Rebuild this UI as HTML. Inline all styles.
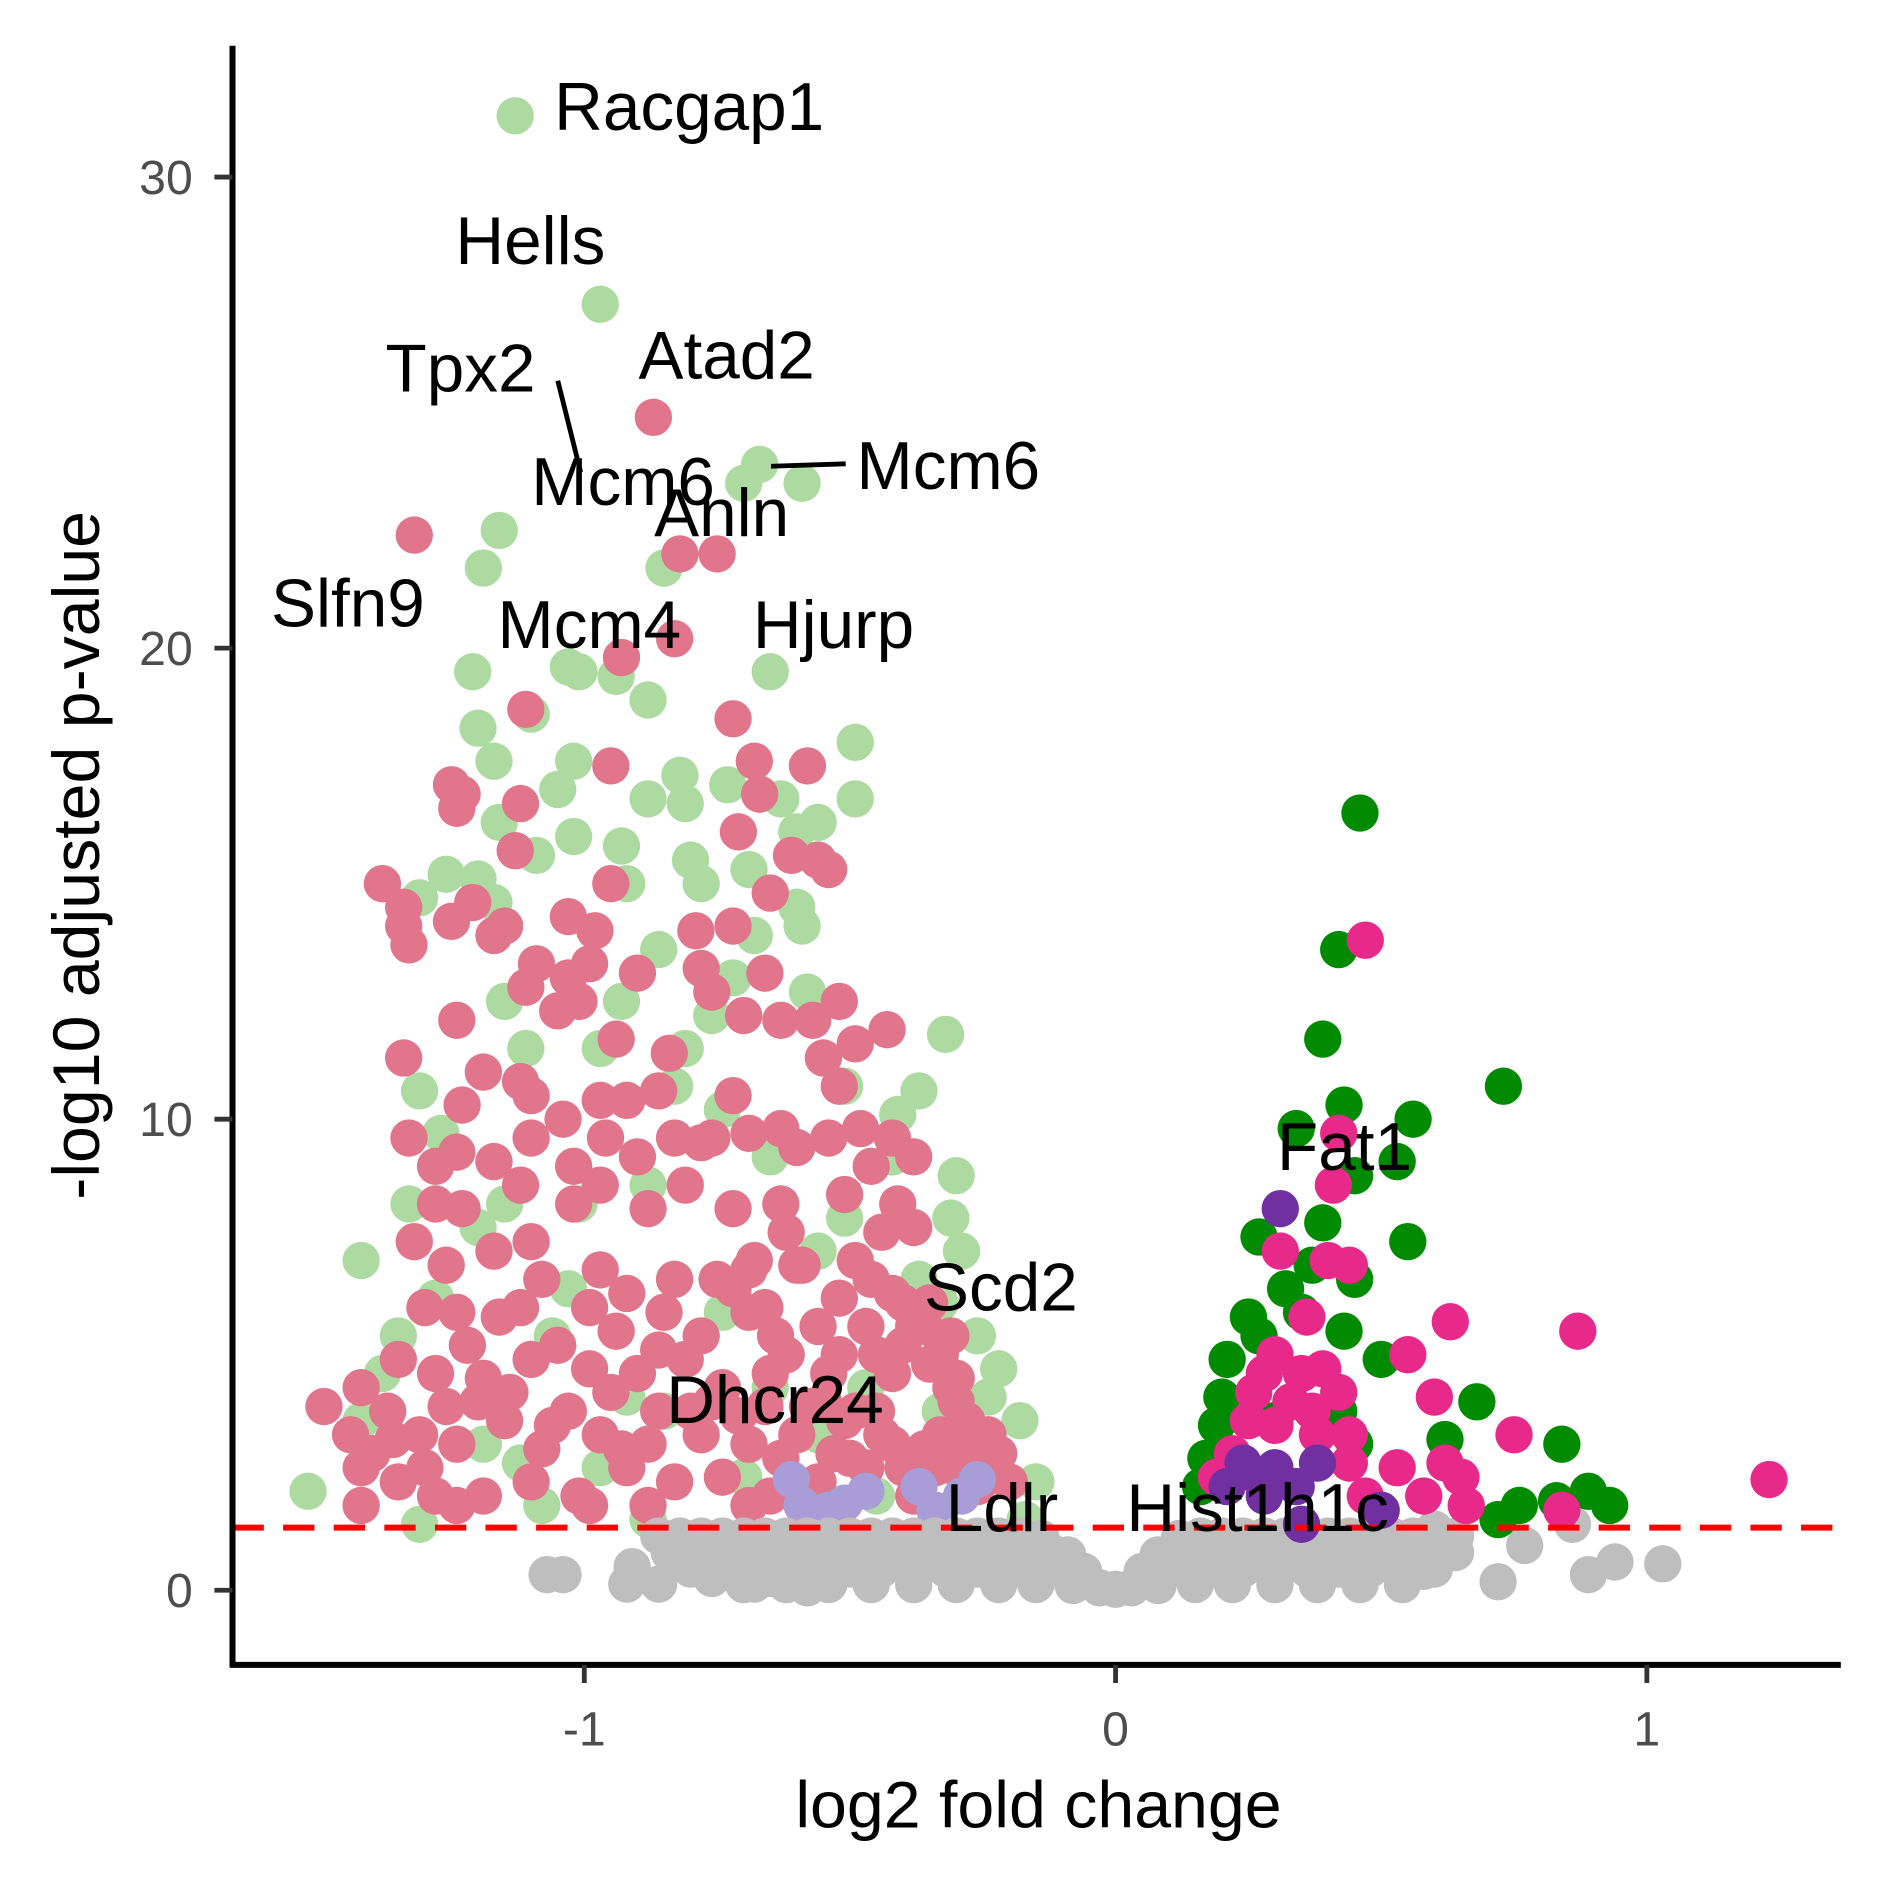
<!DOCTYPE html>
<html><head><meta charset="utf-8"><style>
html,body{margin:0;padding:0;background:#fff}
svg{display:block}
text{font-family:"Liberation Sans",Arial,sans-serif}
</style></head><body>
<svg id="chart" width="1889" height="1889" viewBox="0 0 1568 1568" xmlns="http://www.w3.org/2000/svg">
<g id="points"></g>
<line x1="193" x2="1528" y1="1268" y2="1268" stroke="#ff0000" stroke-width="5" stroke-dasharray="26,16"/>
<g font-size="56" fill="#000">
<text x="460" y="108">Racgap1</text>
<text x="378" y="219">Hells</text>
<text x="530" y="314">Atad2</text>
<text x="320" y="325">Tpx2</text>
<text x="441" y="419">Mcm6</text>
<text x="543" y="445">Anln</text>
<text x="711" y="406">Mcm6</text>
<text x="225" y="520">Slfn9</text>
<text x="413" y="538">Mcm4</text>
<text x="625" y="538">Hjurp</text>
<text x="1060" y="971">Fat1</text>
<text x="767" y="1088">Scd2</text>
<text x="553" y="1181">Dhcr24</text>
<text x="785" y="1271">Ldlr</text>
<text x="935" y="1271">Hist1h1c</text>
</g>
<line x1="463" y1="316" x2="482" y2="392" stroke="#000" stroke-width="4"/>
<line x1="640" y1="387" x2="702" y2="385" stroke="#000" stroke-width="4"/>
<g id="axes"></g>
<text x="862" y="1517" font-size="55" text-anchor="middle">log2 fold change</text>
<text transform="translate(82,710) rotate(-90)" font-size="55" text-anchor="middle">-log10 adjusted p-value</text>
</svg>
<script>
const lgX=[-1.13,-0.97,-0.70,-0.67,-0.59,-1.16,-1.19,-0.85,-0.65,-1.21,-1.03,-1.01,-0.94,-0.88,-1.20,-1.10,-1.17,-0.82,-0.73,-0.63,-0.49,-0.49,-1.02,-1.05,-0.88,-0.81,-1.16,-1.09,-1.02,-0.93,-0.92,-0.80,-0.78,-0.69,-0.60,-0.56,-1.26,-1.20,-1.17,-1.31,-0.60,-0.59,-0.68,-0.86,-0.58,-0.93,-0.32,-0.37,-0.41,-0.30,-1.42,-1.52,-1.31,-1.12,-0.22,-0.26,-0.31,-0.29,-0.18,-0.15,-1.33,-1.31,-1.27,-1.15,-1.11,-0.97,-0.92,-0.83,-0.74,-0.65,-0.51,-0.42,-0.51,-0.37,-0.33,-0.24,-1.42,-1.35,-1.03,-0.74,-0.56,-1.15,-1.01,-0.83,-0.88,-1.06,-1.19,-0.92,-0.65,-0.47,-0.33,-0.24,-0.17,-1.08,-0.88,-0.76,-0.81,-0.72,-1.38,-1.10,-0.97,-0.85,-0.70,-0.56,-0.45,-1.28,-1.20];
const lgY=[31.3,27.3,23.5,23.9,23.5,22.5,21.7,21.7,19.5,19.5,19.6,19.5,19.4,18.9,18.3,18.6,17.6,17.3,17.1,16.8,18.0,16.8,17.6,17.0,16.8,16.7,16.3,15.6,16.0,15.8,15.0,15.5,15.0,15.3,16.1,16.3,15.2,15.1,14.6,14.7,14.5,14.1,13.9,13.6,12.7,12.5,11.8,10.6,10.1,8.8,7.0,2.1,1.4,2.7,4.7,5.4,7.9,7.2,3.6,2.3,8.2,10.6,9.7,12.5,11.5,11.5,10.4,10.7,10.2,9.2,10.7,9.2,7.9,6.6,6.1,4.1,3.6,5.4,6.4,5.9,7.2,8.2,8.2,6.6,8.6,5.4,3.1,4.1,4.3,4.3,3.8,3.1,1.5,1.8,1.5,12.2,11.5,13.0,4.6,4.9,2.6,3.8,2.4,3.3,2.0,6.2,7.7];
const drX=[-0.87,-0.82,-0.75,-0.93,-0.83,-1.32,-1.11,-0.72,-0.95,-0.68,-0.58,-0.67,-1.25,-1.23,-1.24,-1.12,-0.71,-1.13,-0.61,-0.56,-0.54,-1.38,-1.34,-1.34,-1.33,-1.21,-1.25,-1.17,-1.15,-1.03,-0.98,-0.95,-0.65,-0.72,-0.79,-0.90,-0.78,-0.99,-1.03,-1.09,-1.11,-0.76,-0.66,-0.52,-0.70,-0.63,-1.24,-1.05,-1.01,-0.57,-0.49,-0.43,-1.34,-1.19,-0.84,-0.94,-0.55,-1.12,-0.52,-0.72,-0.63,-0.86,-0.92,-0.97,-1.10,-1.23,-1.33,-1.28,-1.24,-1.17,-1.10,-1.04,-0.96,-0.83,-0.76,-0.69,-0.54,-0.48,-0.42,-0.38,-1.28,-1.23,-1.10,-1.02,-0.97,-0.88,-0.81,-0.72,-0.63,-0.51,-0.41,-0.38,-1.32,-1.26,-1.17,-1.08,-0.97,-0.92,-0.83,-0.72,-0.60,-0.49,-0.42,-0.35,-1.24,-1.12,-0.99,-0.85,-0.78,-0.69,-0.56,-0.47,-0.38,-0.31,-1.35,-1.28,-1.19,-1.10,-0.99,-0.90,-0.81,-0.74,-0.65,-0.54,-0.42,-0.31,-1.42,-1.49,-1.44,-1.37,-1.31,-1.24,-1.15,-1.06,-0.97,-0.88,-0.78,-0.69,-0.60,-0.51,-0.42,-0.33,-0.24,-1.42,-1.35,-1.28,-1.19,-1.10,-1.01,-0.92,-0.83,-0.74,-0.65,-0.56,-0.47,-0.38,-0.20,-1.42,-1.24,-0.99,-0.88,-0.69,-0.45,-0.40,-0.35,-0.30,-0.28,-0.45,-0.36,-0.30,-0.26,-0.50,-0.55,-0.62,-0.66,-0.68,-0.62,-0.46,-0.52,-1.40,-1.36,-1.30,-1.26,-1.20,-1.14,-1.08,-1.03,-0.95,-0.93,-0.86,-0.80,-0.76,-0.71,-0.66,-0.63,-0.58,-0.53,-0.49,-0.44,-0.40,-0.34,-0.28,-0.25,-0.22,-0.30,-0.36,-0.40,-0.33,-1.22,-1.16,-1.05,-0.94,-0.86,-0.75,-0.69,-0.59,-0.64,-0.52,-0.44,-1.30,-1.12,-1.02,-0.90,-0.78,-0.60,-0.46];
const drY=[24.9,22.0,22.0,19.8,20.2,22.4,18.7,18.5,17.5,17.6,17.5,16.9,17.1,16.9,16.6,16.7,16.1,15.7,15.6,15.5,15.3,15.0,14.5,14.1,13.7,14.6,14.2,13.9,14.1,14.3,14.0,15.0,14.8,14.1,14.0,13.1,13.2,13.3,13.0,13.3,12.8,12.7,13.1,12.5,12.2,12.1,12.1,12.3,12.5,12.1,11.6,11.9,11.3,11.0,11.4,11.7,11.3,10.8,10.7,10.5,9.8,10.6,10.4,10.4,10.5,10.3,9.6,9.0,9.3,9.1,9.6,10.0,9.6,9.6,9.6,9.7,9.6,9.8,9.6,9.2,8.2,8.1,7.4,8.2,8.6,8.1,8.6,8.1,8.2,8.4,8.2,7.7,7.4,6.9,7.2,6.6,6.8,6.3,6.6,6.4,6.9,7.0,6.3,6.1,5.9,6.0,6.0,5.9,5.4,5.9,5.6,5.6,5.6,5.4,4.9,4.6,4.5,4.9,4.7,4.6,4.9,4.3,4.6,4.6,4.6,4.3,4.3,3.9,3.3,3.8,3.3,3.1,3.6,3.5,3.3,3.1,3.3,3.1,3.3,3.6,3.1,3.3,3.3,2.6,2.3,2.0,2.0,2.3,2.0,2.6,2.3,2.4,2.0,2.3,2.6,2.0,2.3,1.8,1.8,1.8,1.8,1.8,5.0,5.2,4.8,4.0,3.6,3.8,3.0,2.6,2.2,2.8,4.0,5.0,6.0,7.0,7.6,6.6,6.2,2.9,3.2,2.6,3.9,4.0,4.2,3.0,3.8,4.2,3.0,3.8,3.8,4.0,3.7,3.9,2.8,3.9,2.9,3.8,3.3,2.6,2.6,3.0,2.6,2.9,4.5,5.6,6.1,5.0,5.2,5.8,5.2,5.5,5.1,6.6,6.8,6.9,5.4,5.0,7.6,6.0,8.6,9.0,9.2,9.5,9.4,9.0];
const lvX=[-0.61,-0.59,-0.51,-0.47,-0.37,-0.34,-0.29,-0.26,-0.54];
const lvY=[2.35,1.8,1.85,2.1,2.2,1.7,2.0,2.35,1.7];
const grX=[-1.07,-1.04,-0.92,-0.86,-0.91,-0.76,-0.68,-0.65,-0.58,0.72,0.77,0.89,0.94,1.03,0.86,0.64,0.60,0.58,
-0.86,-0.82,-0.78,-0.74,-0.70,-0.66,-0.62,-0.58,-0.54,-0.50,-0.46,-0.42,-0.38,-0.34,-0.30,-0.26,-0.22,-0.18,-0.14,0.12,0.16,0.20,0.24,0.28,0.32,0.36,0.40,0.44,0.48,0.52,0.56,0.60,0.64,
-0.84,-0.80,-0.76,-0.72,-0.68,-0.64,-0.60,-0.56,-0.52,-0.48,-0.44,-0.40,-0.36,-0.32,-0.28,-0.24,-0.20,-0.16,-0.12,-0.09,0.08,0.11,0.14,0.18,0.22,0.26,0.30,0.34,0.38,0.42,0.46,0.50,0.54,0.58,0.62,
-0.80,-0.74,-0.68,-0.62,-0.56,-0.50,-0.44,-0.38,-0.32,-0.26,-0.20,-0.15,-0.10,-0.06,0.05,0.09,0.13,0.18,0.24,0.30,0.36,0.42,0.48,0.54,0.60,
-0.70,-0.62,-0.54,-0.46,-0.38,-0.30,-0.22,-0.15,-0.08,-0.03,0.00,0.03,0.08,0.15,0.22,0.30,0.38,0.46,0.54];
const grY=[0.33,0.33,0.13,0.13,0.5,0.25,0.13,0.25,0.05,0.18,0.95,0.33,0.6,0.56,1.4,0.8,1.3,0.4,
1.15,1.15,1.15,1.15,1.15,1.15,1.15,1.15,1.15,1.15,1.15,1.15,1.15,1.15,1.15,1.15,1.15,1.15,1.1,1.1,1.15,1.15,1.15,1.15,1.15,1.15,1.15,1.15,1.15,1.15,1.15,1.15,1.15,
0.8,0.8,0.8,0.8,0.8,0.8,0.8,0.8,0.8,0.8,0.8,0.8,0.8,0.8,0.8,0.8,0.8,0.8,0.8,0.75,0.75,0.8,0.8,0.8,0.8,0.8,0.8,0.8,0.8,0.8,0.8,0.8,0.8,0.8,0.8,
0.45,0.45,0.45,0.45,0.45,0.45,0.45,0.45,0.45,0.45,0.45,0.45,0.45,0.4,0.4,0.45,0.45,0.45,0.45,0.45,0.45,0.45,0.45,0.45,0.45,
0.12,0.12,0.12,0.12,0.12,0.12,0.12,0.12,0.1,0.05,0.02,0.05,0.1,0.12,0.12,0.12,0.12,0.12,0.12];
const dgX=[0.46,0.42,0.39,0.73,0.43,0.56,0.34,0.53,0.45,0.55,0.39,0.27,0.37,0.45,0.32,0.43,0.27,0.21,0.50,0.68,0.62,0.84,0.19,0.17,0.16,0.89,0.93,0.83,0.76,0.72,0.20,0.42,0.45,0.25,0.35,0.30];
const dgY=[16.5,13.6,11.7,10.7,10.3,10.0,9.8,9.1,8.8,7.4,7.8,7.5,6.9,6.6,6.4,5.5,5.4,4.9,4.9,4.0,3.2,3.1,3.5,2.8,2.2,2.1,1.8,1.9,1.8,1.5,4.1,3.8,3.1,5.8,5.9,3.6];
const mgX=[0.47,0.42,0.41,0.31,0.40,0.44,0.63,0.87,0.55,0.60,0.75,1.23,0.36,0.30,0.35,0.39,0.26,0.33,0.42,0.25,0.30,0.38,0.44,0.22,0.44,0.53,0.62,0.65,0.58,0.66,0.84,0.47,0.19,0.37,0.28];
const mgY=[13.8,9.7,8.6,7.2,7.0,6.9,5.7,5.5,5.0,4.1,3.3,2.35,5.8,5.0,4.6,4.7,4.2,4.0,4.2,3.6,3.5,3.3,3.3,2.9,2.7,2.6,2.7,2.4,2.0,1.8,1.7,2.0,2.4,3.8,4.6];
const puX=[0.31,0.24,0.27,0.30,0.34,0.38,0.21,0.35,0.50,0.28];
const puY=[8.1,2.7,2.4,2.6,2.2,2.7,2.2,1.4,1.7,2.0];
const xTicks=[-1,0,1];
const yTicks=[0,10,20,30];

const NS="http://www.w3.org/2000/svg";
function sx(v){return 926+v*441;}
function sy(v){return 1320-v*39.1;}
const pts=document.getElementById('points');
function drawSeries(xs,ys,color,name){
  const g=document.createElementNS(NS,'g');
  
  
  for(let i=0;i<xs.length;i++){
    const c=document.createElementNS(NS,'circle');
    c.setAttribute('cx',sx(xs[i]));c.setAttribute('cy',sy(ys[i]));c.setAttribute('r',15.5);c.setAttribute('fill',color);
    
    
    g.appendChild(c);
  }
  pts.appendChild(g);
}
drawSeries(lgX,lgY,'#addaa1','down-other');
drawSeries(drX,drY,'#e0758c','down-highlight');
drawSeries(lvX,lvY,'#a89dd6','down-lipid');
drawSeries(grX,grY,'#bebebe','not-significant');
drawSeries(dgX,dgY,'#008b00','up-other');
drawSeries(mgX,mgY,'#e7298a','up-highlight');
drawSeries(puX,puY,'#7030a0','up-histone');

const ax=document.getElementById('axes');
function mk(tag,attrs){const e=document.createElementNS(NS,tag);for(const k in attrs)e.setAttribute(k,attrs[k]);ax.appendChild(e);return e;}
const yl=mk('line',{x1:193,x2:193,y1:38,y2:1384,stroke:'#000','stroke-width':5});


const xl=mk('line',{x1:191,x2:1528,y1:1382,y2:1382,stroke:'#000','stroke-width':5});


xTicks.forEach(t=>{
  const tk=mk('line',{x1:sx(t),x2:sx(t),y1:1382,y2:1397,stroke:'#333','stroke-width':4});
  
  
  const tl=mk('text',{x:sx(t),y:1449,'font-size':40,fill:'#4d4d4d','text-anchor':'middle'});
  tl.textContent=String(t);
  
  
});
yTicks.forEach(t=>{
  const tk=mk('line',{x1:178,x2:193,y1:sy(t),y2:sy(t),stroke:'#333','stroke-width':4});
  
  
  const tl=mk('text',{x:160,y:sy(t)+14,'font-size':40,fill:'#4d4d4d','text-anchor':'end'});
  tl.textContent=String(t);
  
  
});
</script>
</body></html>
